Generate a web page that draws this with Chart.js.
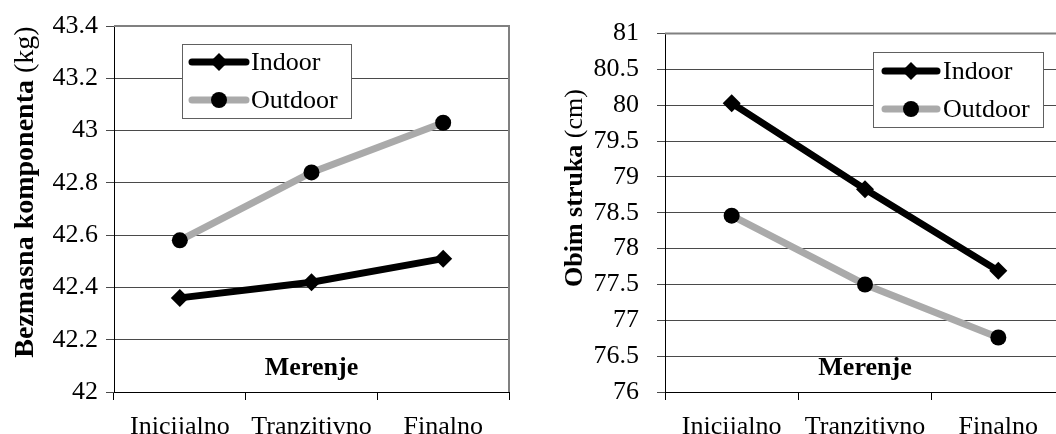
<!DOCTYPE html>
<html>
<head>
<meta charset="utf-8">
<script src="https://cdn.jsdelivr.net/npm/chart.js@4.4.0/dist/chart.umd.min.js"></script>
<style>
    html, body { margin: 0; padding: 0; background: #fff; overflow: hidden; width: 1056px; height: 434px; }
    .panel { position: absolute; top: 0; height: 434px; overflow: hidden; }
</style>
</head>
<body>
<div class="panel" style="left:0;width:530px"><canvas id="chartLeft" width="530" height="434"></canvas></div>
<div class="panel" style="left:530px;width:526px"><canvas id="chartRight" width="550" height="434"></canvas></div>
<script>
// data
const categories = ['Inicijalno', 'Tranzitivno', 'Finalno'];
const seriesNames = ['Indoor', 'Outdoor'];

const leftIndoor = [42.36, 42.42, 42.51];
const leftOutdoor = [42.58, 42.84, 43.03];
const leftTicks = [42, 42.2, 42.4, 42.6, 42.8, 43, 43.2, 43.4];

const rightIndoor = [80.03, 78.83, 77.69];
const rightOutdoor = [78.46, 77.5, 76.76];
const rightTicks = [76, 76.5, 77, 77.5, 78, 78.5, 79, 79.5, 80, 80.5, 81];

const SERIF = '"Liberation Serif", "Times New Roman", serif';

// plot border, titles and legend drawn on the canvas
const decorPlugin = {
    id: 'decor',
    beforeDatasetsDraw(chart, args, opts) {
        const a = chart.chartArea;
        const ctx = chart.ctx;
        ctx.save();
        ctx.strokeStyle = '#808080';
        ctx.lineWidth = 2;
        ctx.beginPath();
        ctx.moveTo(a.left, a.top);
        ctx.lineTo(a.right, a.top);
        ctx.lineTo(a.right, a.bottom);
        ctx.stroke();

        // x title sits inside the plot area
        ctx.fillStyle = '#000';
        ctx.font = 'bold 26px ' + SERIF;
        ctx.textAlign = 'center';
        ctx.textBaseline = 'alphabetic';
        ctx.fillText(opts.xTitle, (a.left + a.right) / 2, opts.xTitleY);

        // y title: bold part + normal unit
        const bold = 'bold ' + opts.titleSize + 'px ' + SERIF;
        const normal = opts.titleSize + 'px ' + SERIF;
        ctx.translate(opts.titleX, opts.titleY);
        ctx.rotate(-Math.PI / 2);
        ctx.font = bold;
        const w1 = ctx.measureText(opts.yTitle).width;
        ctx.font = normal;
        const w2 = ctx.measureText(opts.yUnit).width;
        const x0 = -(w1 + w2) / 2;
        ctx.textAlign = 'left';
        ctx.font = bold;
        ctx.fillText(opts.yTitle, x0, 0);
        ctx.font = normal;
        ctx.fillText(opts.yUnit, x0 + w1, 0);
        ctx.restore();
    },
    afterDatasetsDraw(chart, args, opts) {
        const L = opts.legend;
        const ctx = chart.ctx;
        ctx.save();
        ctx.fillStyle = '#fff';
        ctx.fillRect(L.x, L.y, L.w, L.h);
        ctx.strokeStyle = '#606060';
        ctx.lineWidth = 1;
        ctx.strokeRect(L.x + 0.5, L.y + 0.5, L.w, L.h);
        chart.data.datasets.forEach((ds, i) => {
            const y = L.rowY[i];
            ctx.strokeStyle = ds.borderColor;
            ctx.lineWidth = ds.borderWidth;
            ctx.lineCap = 'round';
            ctx.beginPath();
            ctx.moveTo(L.lineX1, y);
            ctx.lineTo(L.lineX2, y);
            ctx.stroke();
            ctx.fillStyle = ds.pointBackgroundColor;
            Chart.helpers.drawPoint(ctx, { pointStyle: ds.pointStyle, radius: ds.pointRadius, rotation: 0, borderWidth: 0 }, (L.lineX1 + L.lineX2) / 2, y);
            ctx.fillStyle = '#000';
            ctx.font = '26px ' + SERIF;
            ctx.textAlign = 'left';
            ctx.textBaseline = 'middle';
            ctx.fillText(ds.label, L.textX, y + 1);
        });
        ctx.restore();
    }
};

function makeChart(id, indoor, outdoor, ticks, layout, decor) {
    const ctx = document.getElementById(id).getContext('2d');
    return new Chart(ctx, {
        type: 'line',
        data: {
            labels: categories,
            datasets: [
                {
                    label: seriesNames[0],
                    data: indoor,
                    borderColor: '#000',
                    borderWidth: 7,
                    pointStyle: 'rectRot',
                    pointRadius: 9,
                    pointBackgroundColor: '#000',
                    pointBorderWidth: 0,
                    tension: 0
                },
                {
                    label: seriesNames[1],
                    data: outdoor,
                    borderColor: '#aaaaaa',
                    borderWidth: 7,
                    pointStyle: 'circle',
                    pointRadius: 8,
                    pointBackgroundColor: '#000',
                    pointBorderWidth: 0,
                    tension: 0
                }
            ]
        },
        options: {
            responsive: false,
            animation: false,
            devicePixelRatio: 1,
            layout: { padding: { top: layout.top, right: layout.right, left: 0, bottom: 0 } },
            plugins: {
                legend: { display: false },
                tooltip: { enabled: false },
                decor: decor
            },
            scales: {
                x: {
                    offset: true,
                    grid: { display: true, offset: true, drawOnChartArea: false, drawTicks: true, tickLength: 8, color: '#000' },
                    border: { color: '#000', width: 1 },
                    ticks: { color: '#000', font: { family: SERIF, size: 26 }, padding: 12, maxRotation: 0, autoSkip: false },
                    afterFit: (s) => { s.height = 42; }
                },
                y: {
                    min: ticks[0],
                    max: ticks[ticks.length - 1],
                    afterBuildTicks: (s) => { s.ticks = ticks.map(v => ({ value: v })); },
                    grid: { color: '#4a4a4a', tickLength: 8 },
                    border: { color: '#000', width: 1 },
                    ticks: {
                        color: '#000',
                        font: { family: SERIF, size: 26 },
                        padding: layout.tickPad,
                        callback: (v) => String(v)
                    },
                    afterFit: (s) => { s.width = layout.axisWidth; }
                }
            }
        },
        plugins: [decorPlugin]
    });
}

makeChart('chartLeft', leftIndoor, leftOutdoor, leftTicks,
    { top: 26, right: 21, axisWidth: 114, tickPad: 8 },
    {
        xTitle: 'Merenje', xTitleY: 375,
        yTitle: 'Bezmasna komponenta', yUnit: ' (kg)', titleSize: 28, titleX: 33, titleY: 192,
        legend: { x: 182, y: 44, w: 169, h: 74, lineX1: 192, lineX2: 246, rowY: [62, 100], textX: 251 }
    });

makeChart('chartRight', rightIndoor, rightOutdoor, rightTicks,
    { top: 25, right: 15, axisWidth: 135, tickPad: 18 },
    {
        xTitle: 'Merenje', xTitleY: 375,
        yTitle: 'Obim struka', yUnit: ' (cm)', titleSize: 26, titleX: 52, titleY: 188,
        legend: { x: 343, y: 52, w: 170, h: 75, lineX1: 355, lineX2: 407, rowY: [71, 109], textX: 413 }
    });
</script>
</body>
</html>
